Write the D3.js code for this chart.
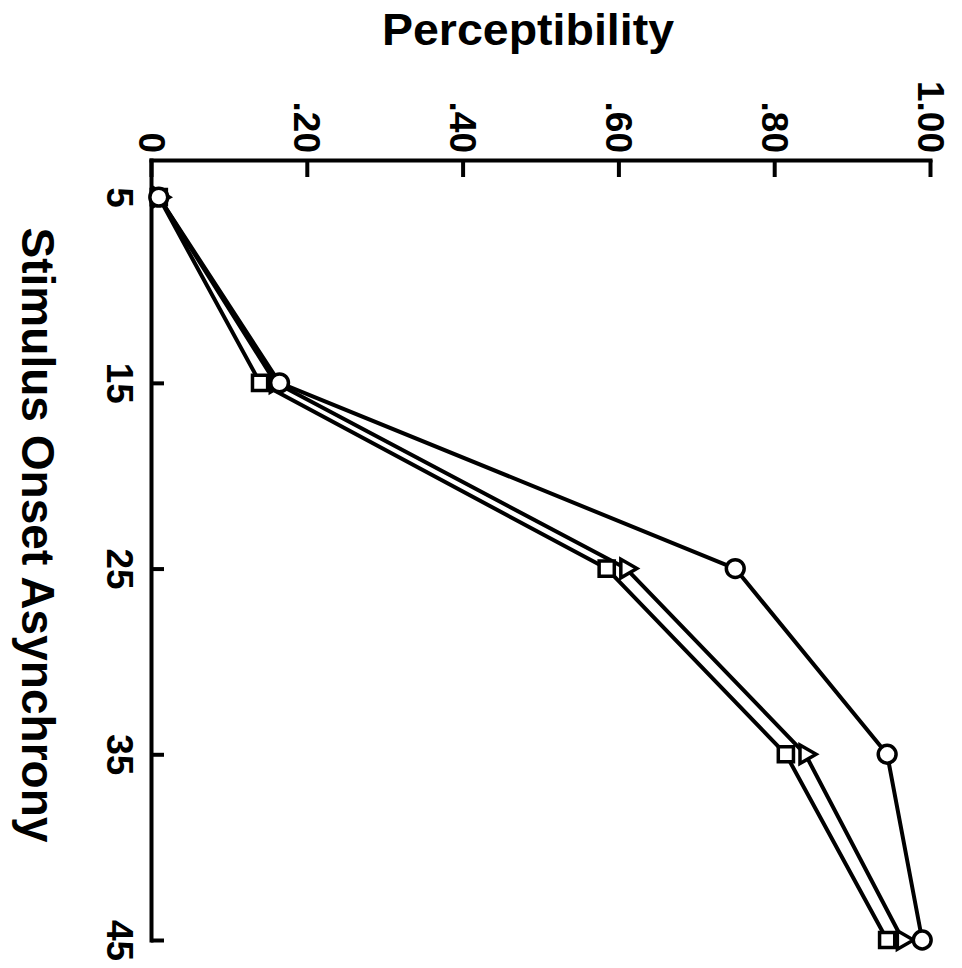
<!DOCTYPE html>
<html>
<head>
<meta charset="utf-8">
<script src="https://cdn.jsdelivr.net/npm/d3@7"></script>
<style>
  body { margin: 0; background: #fff; }
  text { font-family: "Liberation Sans", Arial, sans-serif; font-weight: bold; fill: #000; }
</style>
</head>
<body>
<div id="chart"></div>
<script>
// stimulus onset asynchrony (ms) and perceptibility for the three conditions
const soa = [5, 15, 25, 35, 45];
const circleVals = [0.01, 0.165, 0.75, 0.945, 0.99];
const triangleVals = [0.01, 0.16, 0.61, 0.84, 0.965];
const squareVals = [0.01, 0.14, 0.585, 0.815, 0.945];

const percTicks = [0, 0.2, 0.4, 0.6, 0.8, 1];
const percTickLabels = ["0", ".20", ".40", ".60", ".80", "1.00"];
const soaTicks = [5, 15, 25, 35, 45];

const width = 962;
const height = 968;

const svg = d3.select("#chart")
  .append("svg")
  .attr("width", width)
  .attr("height", height);

// the figure is printed on its side: perceptibility runs left->right, SOA top->bottom
const x = d3.scaleLinear().domain([0, 1]).range([151, 930]);
const y = d3.scaleLinear().domain([3, 45]).range([160, 940]);

const xAxis = d3.axisTop(x)
  .tickValues(percTicks)
  .tickFormat((d, i) => percTickLabels[i])
  .tickSizeInner(-17)
  .tickSizeOuter(0);

const gx = svg.append("g")
  .attr("transform", "translate(0,160)")
  .call(xAxis);

gx.select(".domain").attr("stroke-width", 4).attr("stroke-linecap", "square");
gx.selectAll(".tick line").attr("stroke-width", 4);
gx.selectAll(".tick text")
  .attr("x", 0).attr("y", 0).attr("dy", 0)
  .attr("text-anchor", "end")
  .attr("transform", "translate(-13,-7) rotate(90)")
  .style("font-size", "37px");

const yAxis = d3.axisLeft(y)
  .tickValues(soaTicks)
  .tickSizeInner(-13)
  .tickSizeOuter(0);

const gy = svg.append("g")
  .attr("transform", "translate(151,0)")
  .call(yAxis);

gy.select(".domain").attr("stroke-width", 4).attr("stroke-linecap", "square");
gy.selectAll(".tick line").attr("stroke-width", 4);
gy.selectAll(".tick text")
  .attr("x", 0).attr("y", 0).attr("dy", 0)
  .attr("text-anchor", "middle")
  .attr("transform", "translate(-44,0) rotate(90)")
  .style("font-size", "37px");

// titles
svg.append("text")
  .attr("x", 528)
  .attr("y", 45)
  .attr("text-anchor", "middle")
  .attr("textLength", 292)
  .attr("lengthAdjust", "spacingAndGlyphs")
  .style("font-size", "44px")
  .text("Perceptibility");

svg.append("text")
  .attr("transform", "translate(22,535) rotate(90)")
  .attr("text-anchor", "middle")
  .attr("textLength", 615)
  .attr("lengthAdjust", "spacingAndGlyphs")
  .style("font-size", "46px")
  .text("Stimulus Onset Asynchrony");

const series = [
  { vals: squareVals, shape: d3.symbolSquare, size: 230, rot: 0 },
  { vals: triangleVals, shape: d3.symbolTriangle, size: 150, rot: 90 },
  { vals: circleVals, shape: d3.symbolCircle, size: 250, rot: 0 }
];

const line = d3.line()
  .x(d => x(d.v))
  .y(d => y(d.s));

series.forEach(s => {
  s.points = soa.map((t, i) => ({ s: t, v: s.vals[i] }));
});

svg.selectAll(".series-line")
  .data(series)
  .enter()
  .append("path")
  .attr("class", "series-line")
  .attr("d", d => line(d.points))
  .attr("fill", "none")
  .attr("stroke", "#000")
  .attr("stroke-width", 4)
  .attr("stroke-linejoin", "round");

series.forEach(s => {
  svg.selectAll(null)
    .data(s.points)
    .enter()
    .append("path")
    .attr("d", d3.symbol().type(s.shape).size(s.size))
    .attr("transform", d => `translate(${x(d.v)},${y(d.s)}) rotate(${s.rot})`)
    .attr("fill", "#fff")
    .attr("stroke", "#000")
    .attr("stroke-width", 3.5);
});
</script>
</body>
</html>
